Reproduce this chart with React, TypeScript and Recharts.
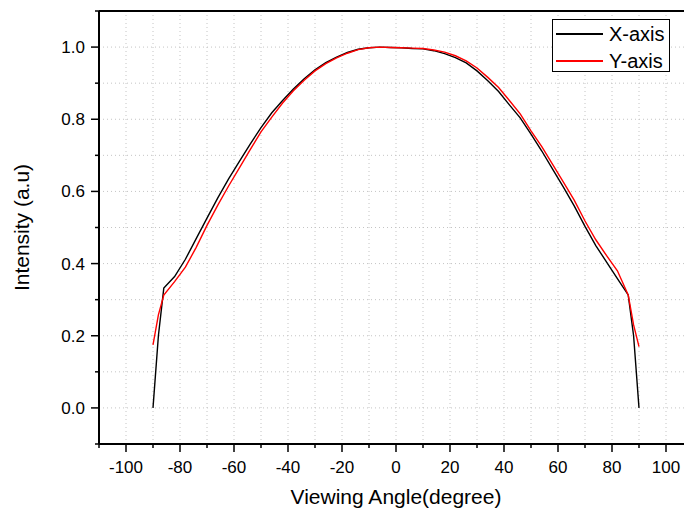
import React from "react";
import { LineChart, Line, XAxis, YAxis, CartesianGrid, ReferenceLine, Legend, Label } from "recharts";

const angles = [
  -90, -88, -86, -82, -78, -74, -70, -66, -62, -58, -54, -50, -46, -42, -38, -34, -30, -26, -22, -18, -14, -10, -6, -2,
  2, 6, 10, 14, 18, 22, 26, 30, 34, 38, 42, 46, 50, 54, 58, 62, 66, 70, 74, 78, 82, 86, 88, 90,
];

const xAxisIntensity = [
  0.0, 0.2, 0.332, 0.364, 0.412, 0.469, 0.526, 0.582, 0.635, 0.683, 0.731, 0.777, 0.818, 0.852, 0.884, 0.912, 0.937,
  0.957, 0.972, 0.985, 0.994, 0.998, 1.0, 0.999,
  0.998, 0.996, 0.995, 0.99, 0.982, 0.971, 0.956, 0.934, 0.907, 0.877, 0.84, 0.804, 0.759, 0.712, 0.662, 0.612, 0.56,
  0.503, 0.45, 0.404, 0.358, 0.313, 0.2, 0.0,
];

const yAxisIntensity = [
  0.175, 0.258, 0.313, 0.35, 0.39, 0.445, 0.506, 0.562, 0.615, 0.665, 0.716, 0.765, 0.806, 0.845, 0.879, 0.908, 0.934,
  0.954, 0.97, 0.983, 0.993, 0.998, 1.0, 0.999,
  0.998, 0.997, 0.996, 0.992, 0.986, 0.976, 0.962, 0.942, 0.916, 0.888, 0.852, 0.815, 0.768, 0.724, 0.675, 0.626, 0.576,
  0.518, 0.466, 0.422, 0.38, 0.313, 0.23, 0.17,
];

const xTicks = [-110, -100, -90, -80, -70, -60, -50, -40, -30, -20, -10, 0, 10, 20, 30, 40, 50, 60, 70, 80, 90, 100, 110];
const yTicks = [-0.1, 0, 0.1, 0.2, 0.3, 0.4, 0.5, 0.6, 0.7, 0.8, 0.9, 1.0, 1.1];

const data = angles.map((a, i) => ({ angle: a, xAxis: xAxisIntensity[i], yAxis: yAxisIntensity[i] }));

const FONT = "'Liberation Sans', Arial, sans-serif";

const XTick = (props: any) => {
  const { x, y, payload } = props;
  const v = payload.value;
  const major = v % 20 === 0 && Math.abs(v) <= 100;
  return (
    <g>
      <line x1={x} x2={x} y1={y} y2={y + (major ? 8 : 4)} stroke="#000" strokeWidth={1.5} />
      {major && (
        <text x={x} y={y + 29} textAnchor="middle" fontSize={17} fontFamily={FONT} fill="#000">
          {v}
        </text>
      )}
    </g>
  );
};

const YTick = (props: any) => {
  const { x, y, payload } = props;
  const k = Math.round(payload.value * 10);
  const major = k % 2 === 0 && k >= 0 && k <= 10;
  return (
    <g>
      <line x1={x} x2={x - (major ? 8 : 4)} y1={y} y2={y} stroke="#000" strokeWidth={1.5} />
      {major && (
        <text x={x - 14} y={y + 6} textAnchor="end" fontSize={17} fontFamily={FONT} fill="#000">
          {(k / 10).toFixed(1)}
        </text>
      )}
    </g>
  );
};

const LegendBox = (props: any) => {
  const items = props.payload || [];
  return (
    <div style={{ border: "1px solid #000", width: 116, height: 51, background: "#fff", position: "relative", fontFamily: FONT }}>
      {items.map((it: any, i: number) => (
        <div key={i} style={{ position: "absolute", left: 3, top: 3 + i * 27, height: 22, display: "flex", alignItems: "center" }}>
          <span style={{ display: "inline-block", width: 47, height: i === 0 ? 2 : 1.5, background: it.color }} />
          <span style={{ marginLeft: 6, fontSize: 20, lineHeight: "22px", color: "#000" }}>{it.value}</span>
        </div>
      ))}
    </div>
  );
};

export default function App() {
  return (
    <div style={{ position: "absolute", left: 0, top: 0, width: 684, height: 513, overflow: "hidden", background: "#fff", fontFamily: FONT }}>
      <LineChart width={700} height={513} data={data} margin={{ top: 11, right: 7, bottom: 0, left: 0 }}>
        <CartesianGrid stroke="#c4c4c4" strokeDasharray="1 3" />
        <XAxis
          dataKey="angle"
          type="number"
          domain={[-110, 110]}
          ticks={xTicks}
          interval={0}
          height={69}
          tickSize={0}
          tickMargin={0}
          tickLine={false}
          tick={<XTick />}
          axisLine={{ stroke: "#000", strokeWidth: 2 }}
        >
          <Label
            content={(p: any) => (
              <text x={p.viewBox.x + p.viewBox.width / 2} y={504} textAnchor="middle" fontSize={21} fontFamily={FONT} fill="#000">
                Viewing Angle(degree)
              </text>
            )}
          />
        </XAxis>
        <YAxis
          type="number"
          domain={[-0.1, 1.1]}
          ticks={yTicks}
          interval={0}
          width={99}
          tickSize={0}
          tickMargin={0}
          tickLine={false}
          tick={<YTick />}
          axisLine={{ stroke: "#000", strokeWidth: 2 }}
        >
          <Label
            content={(p: any) => {
              const cy = p.viewBox.y + p.viewBox.height / 2;
              return (
                <text x={29} y={cy} transform={`rotate(-90 29 ${cy})`} textAnchor="middle" fontSize={21} fontFamily={FONT} fill="#000">
                  Intensity (a.u)
                </text>
              );
            }}
          />
        </YAxis>
        <ReferenceLine y={1.1} stroke="#000" strokeWidth={2} />
        <Legend
          layout="horizontal"
          verticalAlign="middle"
          align="center"
          content={<LegendBox />}
          wrapperStyle={{ left: 552, top: 19, width: 118, height: 53 }}
        />
        <Line name="X-axis" dataKey="xAxis" type="linear" stroke="#000000" strokeWidth={1.4} dot={false} isAnimationActive={false} />
        <Line name="Y-axis" dataKey="yAxis" type="linear" stroke="#ff0000" strokeWidth={1.4} dot={false} isAnimationActive={false} />
      </LineChart>
    </div>
  );
}
